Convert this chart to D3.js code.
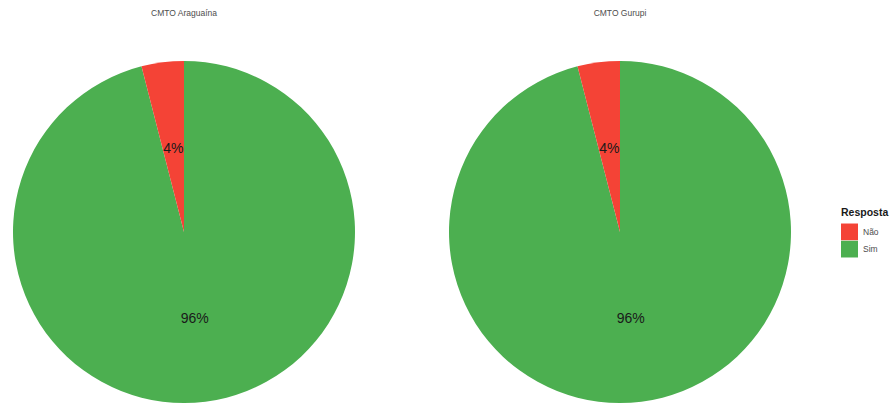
<!DOCTYPE html>
<html>
<head>
<meta charset="utf-8">
<script src="https://cdn.jsdelivr.net/npm/d3@7/dist/d3.min.js"></script>
<style>
  html, body { margin: 0; padding: 0; background: #ffffff; }
  svg { display: block; font-family: "Liberation Sans", Arial, sans-serif; }
</style>
</head>
<body>
<svg id="chart" width="891" height="404"></svg>
<script>
// Survey answers per campus, in percent
const panels = ["CMTO Araguaína", "CMTO Gurupi"];
const categories = ["Não", "Sim"];
const valuesAraguaina = [4, 96];
const valuesGurupi = [4, 96];
const seriesValues = [valuesAraguaina, valuesGurupi];
const colors = ["#F44336", "#4CAF50"];
const legendTitle = "Resposta";

const svg = d3.select("#chart");

const radius = 171;
const centerY = 232;
const panelX = d3.scalePoint().domain(panels).range([184, 620]);
const color = d3.scaleOrdinal().domain(categories).range(colors);

// Slices stacked so the first category sits just counter-clockwise of 12 o'clock
const pie = d3.pie()
  .sort(null)
  .value(d => d.value)
  .startAngle(0)
  .endAngle(2 * Math.PI);

const arc = d3.arc().innerRadius(0).outerRadius(radius);
const labelArc = d3.arc().innerRadius(radius / 2).outerRadius(radius / 2);

panels.forEach((name, i) => {
  const cx = panelX(name);
  // draw the "Sim" slice first (clockwise from top), then "Não"
  const data = categories.map((c, j) => ({ cat: c, value: seriesValues[i][j] })).reverse();
  const g = svg.append("g").attr("transform", `translate(${cx},${centerY})`);

  g.selectAll("path.slice")
    .data(pie(data))
    .join("path")
    .attr("class", "slice")
    .attr("d", arc)
    .attr("fill", d => color(d.data.cat));

  g.selectAll("text.lbl")
    .data(pie(data))
    .join("text")
    .attr("class", "lbl")
    .attr("transform", d => `translate(${labelArc.centroid(d)})`)
    .attr("text-anchor", "middle")
    .attr("y", 6)
    .attr("font-size", 14)
    .attr("fill", "#1a1a1a")
    .text(d => d.data.value + "%");

  svg.append("text")
    .attr("x", cx)
    .attr("y", 16)
    .attr("text-anchor", "middle")
    .attr("font-size", 8.5)
    .attr("fill", "#4d4d4d")
    .text(name);
});

// Legend
const legend = svg.append("g").attr("transform", "translate(841,0)");
legend.append("text")
  .attr("x", 0)
  .attr("y", 216)
  .attr("font-size", 10.5)
  .attr("font-weight", "bold")
  .attr("fill", "#1a1a1a")
  .text(legendTitle);

const keyY = d3.scaleBand().domain(categories).range([223, 258]).padding(0.03);
legend.selectAll("rect.key")
  .data(categories)
  .join("rect")
  .attr("class", "key")
  .attr("x", 0)
  .attr("y", d => keyY(d))
  .attr("width", 17)
  .attr("height", keyY.bandwidth())
  .attr("fill", d => color(d));

legend.selectAll("text.item")
  .data(categories)
  .join("text")
  .attr("class", "item")
  .attr("x", 22)
  .attr("y", d => keyY(d) + keyY.bandwidth() / 2)
  .attr("dominant-baseline", "central")
  .attr("font-size", 8.5)
  .attr("fill", "#4d4d4d")
  .text(d => d);
</script>
</body>
</html>
